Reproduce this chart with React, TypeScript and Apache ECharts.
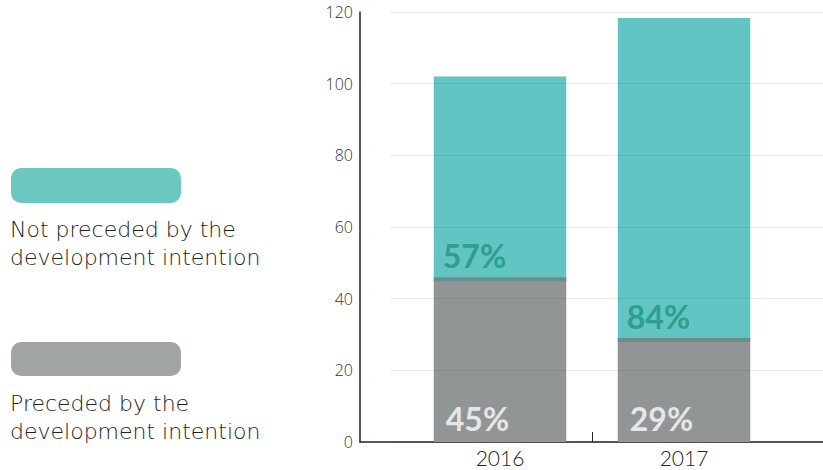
import React, { useEffect, useRef } from "react";
import * as echarts from "echarts";

const categories = ["2016", "2017"];
const preceded = [46, 29];
const notPreceded = [56, 89.3];
const precededLabels = ["45%", "29%"];
const notPrecededLabels = ["57%", "84%"];
const legendLinesTeal = ["Not preceded by the", "development intention"];
const legendLinesGray = ["Preceded by the", "development intention"];
const yMin = 0;
const yMax = 120;
const yInterval = 20;

const TEAL = "#63c5c3";
const GRAY = "#919595";
const FONT = "'Open Sans'";
const LEGEND_FONT = "'DejaVu Sans'";
const BOLD_FONT = "Lato";

export default function App() {
  const ref = useRef<HTMLDivElement>(null);
  useEffect(() => {
    if (!ref.current) return;
    const chart = echarts.init(ref.current, null, { renderer: "svg" });
    const barRatio = 0.72;
    const legendText = (lines: string[], y0: number) =>
      lines.map((t, i) => ({
        type: "text",
        x: 10,
        y: y0 + i * 28,
        style: {
          text: t,
          font: `200 22px ${LEGEND_FONT}`,
          fill: "#222",
          textVerticalAlign: "middle",
        },
      }));
    const option: any = {
      animation: false,
      backgroundColor: "#ffffff",
      grid: [
        { left: 408, right: 47, top: 12, bottom: 28 },
        { left: 390, right: 0, top: 12, bottom: 28 },
        { left: 360, right: 0, top: 12, bottom: 28 },
      ],
      xAxis: [
        {
          type: "category",
          gridIndex: 0,
          data: categories,
          axisLine: { show: false },
          axisTick: { show: false },
          axisLabel: {
            color: "#222",
            fontFamily: "Lato",
            fontWeight: 300,
            fontSize: 21,
            lineHeight: 18,
            margin: 6,
          },
        },
        { type: "value", gridIndex: 1, show: false, min: 0, max: 1 },
        {
          type: "value",
          gridIndex: 2,
          min: 0,
          max: 1,
          axisLine: { show: true, onZero: false, lineStyle: { color: "#222", width: 1.5 } },
          axisTick: { show: false },
          axisLabel: { show: false },
          splitLine: { show: false },
        },
        {
          type: "value",
          gridIndex: 0,
          position: "bottom",
          min: 0,
          max: 2,
          axisLine: { show: false },
          axisLabel: { show: false },
          splitLine: { show: false },
          axisTick: {
            show: true,
            inside: true,
            length: 10,
            customValues: [1],
            lineStyle: { color: "#222", width: 1 },
          },
        },
      ],
      yAxis: [
        { type: "value", gridIndex: 0, min: yMin, max: yMax, interval: yInterval, show: false },
        {
          type: "value",
          gridIndex: 1,
          min: yMin,
          max: yMax,
          interval: yInterval,
          z: 5,
          axisLine: { show: false },
          axisTick: { show: false },
          axisLabel: { show: false },
          splitLine: { show: true, lineStyle: { color: "rgba(0,0,0,0.08)", width: 1 } },
        },
        {
          type: "value",
          gridIndex: 2,
          min: yMin,
          max: yMax,
          interval: yInterval,
          axisLine: { show: true, onZero: false, lineStyle: { color: "#222", width: 1.5 } },
          axisTick: { show: false },
          splitLine: { show: false },
          axisLabel: { color: "#333", fontFamily: FONT, fontWeight: 300, fontSize: 16, margin: 7 },
        },
      ],
      series: [
        {
          type: "bar",
          name: "Preceded",
          xAxisIndex: 0,
          yAxisIndex: 0,
          stack: "total",
          barWidth: "72%",
          data: preceded,
          itemStyle: { color: GRAY },
          label: {
            show: true,
            position: "insideBottomLeft",
            distance: 0,
            offset: [12, -8],
            formatter: (p: any) => precededLabels[p.dataIndex],
            color: "#e6e6e6",
            fontFamily: BOLD_FONT,
            fontWeight: "bold",
            fontSize: 32,
          },
        },
        {
          type: "bar",
          name: "Not preceded",
          xAxisIndex: 0,
          yAxisIndex: 0,
          stack: "total",
          barWidth: "72%",
          data: notPreceded,
          itemStyle: { color: TEAL },
          label: {
            show: true,
            position: "insideBottomLeft",
            distance: 0,
            offset: [9, -6],
            formatter: (p: any) => notPrecededLabels[p.dataIndex],
            color: "#2e9e8f",
            fontFamily: BOLD_FONT,
            fontWeight: "bold",
            fontSize: 32,
          },
        },
        {
          type: "custom",
          xAxisIndex: 0,
          yAxisIndex: 0,
          z: 4,
          data: preceded.map((v, i) => [i, v]),
          renderItem: (params: any, api: any) => {
            const p = api.coord([api.value(0), api.value(1)]);
            const band = api.size([1, 0])[0];
            const w = band * barRatio;
            return {
              type: "rect",
              shape: { x: p[0] - w / 2, y: p[1], width: w, height: 4 },
              style: { fill: "#6a8f8b" },
            };
          },
        },
      ],
      graphic: [
        {
          type: "rect",
          shape: { x: 11, y: 168, width: 170, height: 35, r: 10 },
          style: { fill: "#6cc8bf" },
        },
        ...legendText(legendLinesTeal, 229),
        {
          type: "rect",
          shape: { x: 11, y: 342, width: 170, height: 34, r: 10 },
          style: { fill: "#a0a5a3" },
        },
        ...legendText(legendLinesGray, 403),
      ],
    };
    chart.setOption(option);
    return () => chart.dispose();
  }, []);
  return (
    <div
      ref={ref}
      style={{ position: "fixed", left: 0, top: 0, width: 823, height: 470, background: "#fff" }}
    />
  );
}
